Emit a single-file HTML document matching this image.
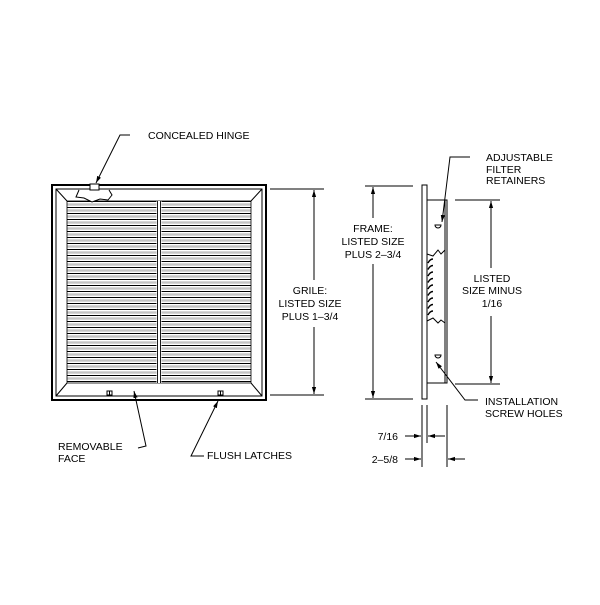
<!DOCTYPE html>
<html><head><meta charset="utf-8"><style>
html,body{margin:0;padding:0;background:#fff;}
svg text{font-family:"Liberation Sans",sans-serif;font-size:10.5px;fill:#000;}
</style></head><body>
<svg width="600" height="600" viewBox="0 0 600 600" xmlns="http://www.w3.org/2000/svg">
<defs>
<pattern id="sl" x="0" y="201" width="10" height="6" patternUnits="userSpaceOnUse">
<rect x="0" y="0" width="10" height="1" fill="#000"/>
<rect x="0" y="2.3" width="10" height="2.4" fill="#c4c4c4"/>
</pattern>
<marker id="ar" viewBox="0 0 10 10" refX="10" refY="5" markerWidth="7" markerHeight="7" orient="auto-start-reverse" markerUnits="userSpaceOnUse"><path d="M0,2 L10,5 L0,8 z" fill="#000"/></marker>
</defs>
<g fill="none" stroke="#000" stroke-width="1">
<rect x="52" y="185" width="214" height="215" stroke-width="2"/>
<rect x="56" y="189" width="206" height="207"/>
<line x1="56" y1="189" x2="67" y2="201"/><line x1="262" y1="189" x2="251" y2="201"/>
<line x1="56" y1="396" x2="67" y2="383"/><line x1="262" y1="396" x2="251" y2="383"/>
<rect x="67" y="201" width="184" height="182" fill="url(#sl)" stroke="none"/>
<rect x="67" y="201" width="184" height="182" stroke-width="0.8"/>
<rect x="156.5" y="201" width="5" height="182" fill="#fff" stroke="none"/>
<line x1="157.5" y1="201" x2="157.5" y2="383" stroke-width="0.9"/>
<line x1="160.5" y1="201" x2="160.5" y2="383" stroke-width="0.9"/>
<path d="M79,190 L76,197 L84,198 L92,202 L100,199 L108,200 L112,195 L109,190" fill="#fff"/>
<rect x="90" y="184" width="9" height="6" fill="#fff"/>
<rect x="107" y="391" width="5" height="4"/><line x1="109.5" y1="391" x2="109.5" y2="395"/>
<rect x="218" y="391" width="5" height="4"/><line x1="220.5" y1="391" x2="220.5" y2="395"/>
<line x1="270" y1="189" x2="324" y2="189"/><line x1="270" y1="395" x2="324" y2="395"/>
<line x1="314" y1="280" x2="314" y2="190" marker-end="url(#ar)"/>
<line x1="314" y1="327" x2="314" y2="394" marker-end="url(#ar)"/>
<line x1="365" y1="186" x2="413" y2="186"/><line x1="365" y1="399" x2="413" y2="399"/>
<line x1="373" y1="218" x2="373" y2="187" marker-end="url(#ar)"/>
<line x1="373" y1="264" x2="373" y2="398" marker-end="url(#ar)"/>
<rect x="422" y="185" width="5" height="214"/>
<rect x="427" y="200" width="20" height="183"/>
<line x1="445" y1="200" x2="445" y2="383"/>
<path d="M427,254 L433,256 L438,250 L441,254 L445,250" fill="#fff"/>
<path d="M427,321 L433,318 L438,323 L441,320 L445,323" fill="#fff"/>
<g stroke-width="1.4">
<path d="M433,259 q-3,0 -5,4"/><path d="M433,265.5 q-3,0 -5,4"/><path d="M433,272 q-3,0 -5,4"/>
<path d="M433,278.5 q-3,0 -5,4"/><path d="M433,285 q-3,0 -5,4"/><path d="M433,291.5 q-3,0 -5,4"/>
<path d="M433,298 q-3,0 -5,4"/><path d="M433,304.5 q-3,0 -5,4"/><path d="M433,311 q-3,0 -5,4"/>
</g>
<path d="M435,225 L441,225 A3,3 0 0 1 435,225 Z"/>
<path d="M435,353 L441,353 A3,3 0 0 0 435,353 Z" transform="rotate(180 438 354)"/>
<line x1="455" y1="200" x2="500" y2="200"/><line x1="455" y1="384" x2="500" y2="384"/>
<line x1="491" y1="268" x2="491" y2="201" marker-end="url(#ar)"/>
<line x1="491" y1="316" x2="491" y2="383" marker-end="url(#ar)"/>
<line x1="422" y1="405" x2="422" y2="467"/><line x1="427" y1="405" x2="427" y2="443"/>
<line x1="447" y1="405" x2="447" y2="467"/>
<line x1="405" y1="436" x2="421" y2="436" marker-end="url(#ar)"/>
<line x1="445" y1="436" x2="428" y2="436" marker-end="url(#ar)"/>
<line x1="405" y1="459" x2="421" y2="459" marker-end="url(#ar)"/>
<line x1="465" y1="459" x2="448" y2="459" marker-end="url(#ar)"/>
<polyline points="130,135 120,135 96,183" marker-end="url(#ar)"/>
<polyline points="138,448 146,446 134,391" marker-end="url(#ar)"/>
<polyline points="204,456 191,456 218,401" marker-end="url(#ar)"/>
<polyline points="470,157 450,157 442,222" marker-end="url(#ar)"/>
<polyline points="478,400 465,400 436,362" marker-end="url(#ar)"/>
</g>
<text x="148" y="139">CONCEALED  HINGE</text>
<text x="58" y="450">REMOVABLE</text><text x="58" y="462">FACE</text>
<text x="207" y="459">FLUSH  LATCHES</text>
<text x="486" y="161">ADJUSTABLE</text><text x="486" y="173">FILTER</text><text x="486" y="184">RETAINERS</text>
<text x="485" y="405">INSTALLATION</text><text x="485" y="417">SCREW  HOLES</text>
<g text-anchor="middle">
<text x="373" y="232">FRAME:</text><text x="373" y="245">LISTED SIZE</text><text x="373" y="258">PLUS 2–3/4</text>
<text x="310" y="294">GRILE:</text><text x="310" y="307">LISTED SIZE</text><text x="310" y="320">PLUS 1–3/4</text>
<text x="492" y="282">LISTED</text><text x="492" y="294">SIZE MINUS</text><text x="492" y="307">1/16</text>
</g>
<text x="398" y="440" text-anchor="end">7/16</text>
<text x="398" y="463" text-anchor="end">2–5/8</text>
</svg>
</body></html>
